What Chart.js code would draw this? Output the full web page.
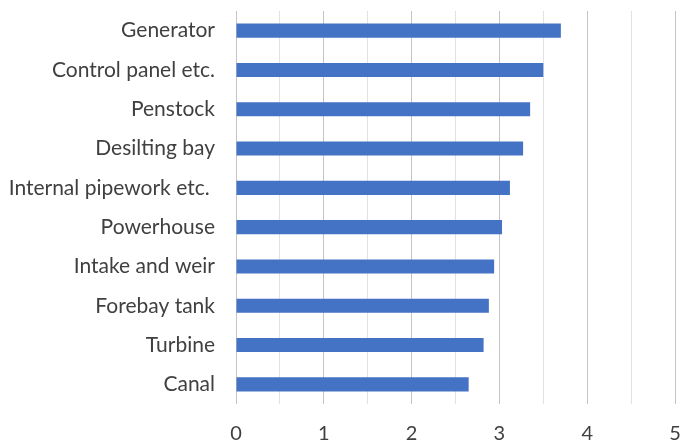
<!DOCTYPE html>
<html>
<head>
<meta charset="utf-8">
<script src="https://cdn.jsdelivr.net/npm/chart.js@4/dist/chart.umd.min.js"></script>
<style>
  html, body { margin: 0; padding: 0; background: #fff; }
  #wrap { width: 682px; height: 444px; }
</style>
</head>
<body>
<div id="wrap"><canvas id="chart" width="682" height="444"></canvas></div>
<script>
// components, top to bottom
const components = [
  "Generator", "Control panel etc.", "Penstock", "Desilting bay",
  "Internal pipework etc. ", "Powerhouse", "Intake and weir",
  "Forebay tank", "Turbine", "Canal"
];
const scores = [3.70, 3.50, 3.35, 3.27, 3.12, 3.03, 2.94, 2.88, 2.82, 2.65];

const xMin = 0;
const xMax = 5;
const xStep = 0.5;

const textColor = "#404040";
const fontFamily = "Lato, 'Open Sans', sans-serif";

const ctx = document.getElementById("chart").getContext("2d");
const chart = new Chart(ctx, {
  type: "bar",
  data: {
    labels: components,
    datasets: [{
      data: scores,
      backgroundColor: "#4472C4",
      borderWidth: 0,
      barPercentage: 0.9,
      categoryPercentage: 0.4
    }]
  },
  options: {
    indexAxis: "y",
    responsive: false,
    animation: false,
    layout: { padding: { top: 11, right: 7, bottom: 0, left: 0 } },
    plugins: {
      legend: { display: false },
      tooltip: { enabled: false }
    },
    scales: {
      x: {
        min: xMin,
        max: xMax,
        border: { display: false },
        grid: {
          drawTicks: false,
          // whole numbers get a darker line than the half steps
          color: c => (c.tick && Number.isInteger(c.tick.value)) ? "#c4c4c4" : "#e2e2e2",
          lineWidth: 1
        },
        ticks: {
          stepSize: xStep,
          autoSkip: false,
          maxRotation: 0,
          padding: 18,
          color: textColor,
          font: { family: fontFamily, size: 20 },
          callback: v => Number.isInteger(v) ? v : ""
        },
        afterFit: s => {
          s.height = 40;
          s.paddingLeft = 0;
          s.paddingRight = 0;
        }
      },
      y: {
        border: { display: false },
        grid: { display: false },
        ticks: {
          padding: 13,
          color: textColor,
          font: { family: fontFamily, size: 21 }
        },
        afterFit: s => {
          s.width = 236;
          s.paddingTop = 0;
          s.paddingBottom = 0;
        }
      }
    }
  }
});
</script>
</body>
</html>
